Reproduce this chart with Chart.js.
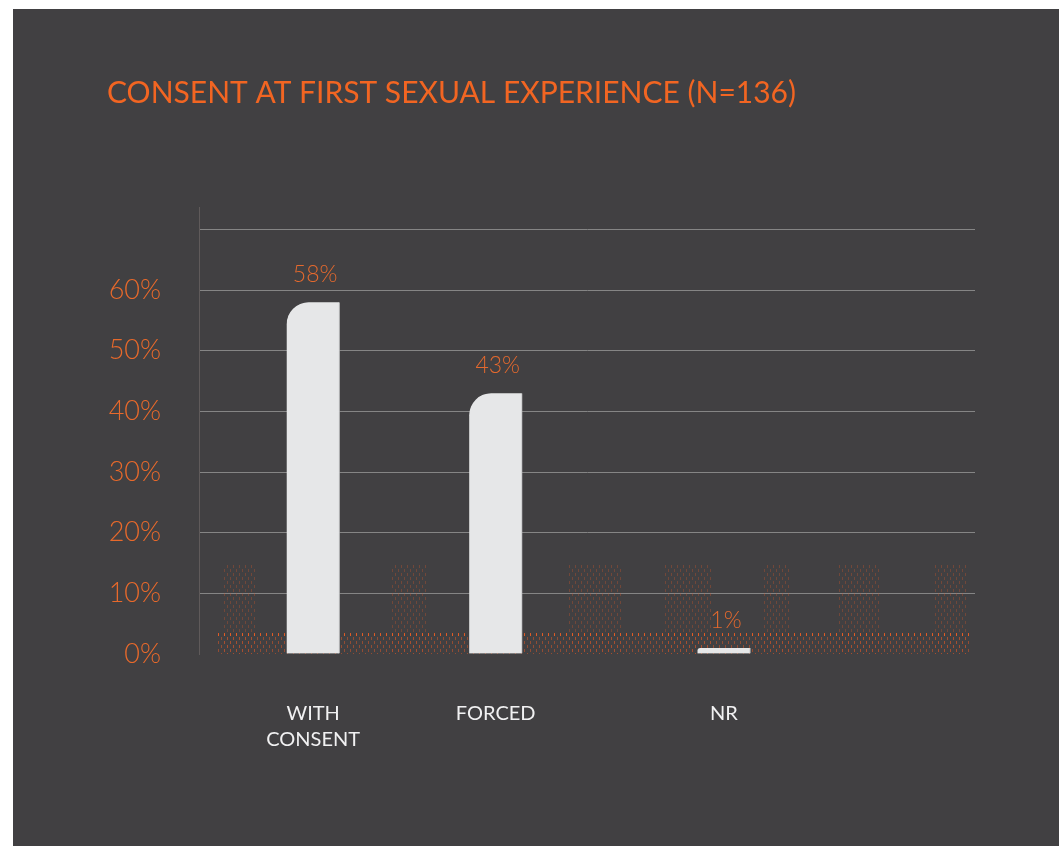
<!DOCTYPE html>
<html>
<head>
<meta charset="utf-8">
<title>Consent at first sexual experience</title>
<script src="https://cdn.jsdelivr.net/npm/chart.js@4/dist/chart.umd.min.js"></script>
<style>
  html, body { margin: 0; padding: 0; background: #ffffff; }
  #panel {
    position: absolute;
    left: 13px;
    top: 9px;
    width: 1046px;
    height: 837px;
    background: #414042;
  }
</style>
</head>
<body>
<div id="panel"><canvas id="grafico"></canvas></div>
<script>
const categorias = [["WITH", "CONSENT"], "FORCED", "NR"];
const porcentagens = [58, 43, 1];
const marcasY = [0, 10, 20, 30, 40, 50, 60, 70];
const titulo = "CONSENT AT FIRST SEXUAL EXPERIENCE (N=136)";

// the x axis is split into 17 slots so the bars sit where the layout wants them
const totalSlots = 17;
const slotDasBarras = [2, 6, 11];

const rotulos = Array(totalSlots).fill("");
const valores = Array(totalSlots).fill(null);
slotDasBarras.forEach((s, i) => {
    rotulos[s] = categorias[i];
    valores[s] = porcentagens[i];
});

const LARANJA = "#f26522";

// dotted orange texture behind the bars
function criarPadrao(ctx) {
    const c = document.createElement("canvas");
    c.width = 6; c.height = 8;
    const g = c.getContext("2d");
    g.fillStyle = "rgba(214, 86, 40, 0.55)";
    g.fillRect(1, 0, 1, 3);
    g.fillRect(4, 4, 1, 3);
    return ctx.createPattern(c, "repeat");
}

const texturaFundo = {
    id: "texturaFundo",
    beforeDatasetsDraw(chart) {
        const { ctx, chartArea } = chart;
        const base = chartArea.bottom;
        const x0 = chartArea.left;
        const padrao = criarPadrao(ctx);
        ctx.save();
        ctx.fillStyle = padrao;
        // low band along the baseline
        ctx.fillRect(x0 + 17, base - 20, 755, 20);
        // taller columns
        const colunas = [[25, 57], [192, 227], [368, 423], [465, 513], [565, 592], [638, 680], [735, 768]];
        ctx.globalAlpha = 0.6;
        colunas.forEach(([a, b]) => ctx.fillRect(x0 + a, base - 90, b - a, 90));
        // brighter dashes on top of the band
        ctx.globalAlpha = 1;
        ctx.fillStyle = "rgba(240, 95, 35, 0.85)";
        for (let x = x0 + 19; x < x0 + 772; x += 6) {
            ctx.fillRect(x, base - 21, 1, 3);
        }
        ctx.restore();
    }
};

const rotulosValor = {
    id: "rotulosValor",
    afterDatasetsDraw(chart) {
        const { ctx } = chart;
        const meta = chart.getDatasetMeta(0);
        ctx.save();
        ctx.fillStyle = "#e4692e";
        ctx.font = "300 23px Lato";
        ctx.textAlign = "center";
        ctx.textBaseline = "bottom";
        meta.data.forEach((bar, i) => {
            const v = valores[i];
            if (v === null) return;
            ctx.fillText(v + "%", bar.x + 2, bar.y - 16);
        });
        ctx.restore();
    }
};

const ctx = document.getElementById("grafico").getContext("2d");
new Chart(ctx, {
    type: "bar",
    data: {
        labels: rotulos,
        datasets: [{
            data: valores,
            backgroundColor: "#e6e7e8",
            borderColor: "#b9babb",
            borderWidth: { right: 1, top: 0, left: 0, bottom: 0 },
            borderRadius: { topLeft: 22, topRight: 0, bottomLeft: 0, bottomRight: 0 },
            borderSkipped: false,
            barThickness: 53
        }]
    },
    options: {
        responsive: true,
        maintainAspectRatio: false,
        animation: false,
        layout: {
            padding: { left: 94, right: 84, top: 0, bottom: 54 }
        },
        plugins: {
            legend: { display: false },
            tooltip: { enabled: false },
            title: {
                display: true,
                text: titulo,
                align: "start",
                color: LARANJA,
                font: { family: "Lato", size: 30, weight: "400" },
                padding: { top: 66, bottom: 96 }
            }
        },
        scales: {
            x: {
                grid: { display: false },
                border: { display: false },
                ticks: {
                    autoSkip: false,
                    maxRotation: 0,
                    color: "#f1f1f2",
                    padding: 39,
                    font: { family: "Lato", size: 20, lineHeight: 1.3 }
                }
            },
            y: {
                min: 0,
                max: 73.7,
                afterFit(scale) { scale.width = 92; },
                border: { display: true, color: "#5f5a5a", width: 1 },
                grid: {
                    drawTicks: false,
                    color: ctx => (ctx.tick.value === 0 ? "rgba(0,0,0,0)" : "#858585")
                },
                afterBuildTicks(scale) {
                    scale.ticks = marcasY.map(v => ({ value: v }));
                },
                ticks: {
                    color: "#e8692b",
                    padding: 38,
                    font: { family: "Lato", size: 27, weight: "300" },
                    callback: v => (v === 70 ? "" : v + "%")
                }
            }
        }
    },
    plugins: [texturaFundo, rotulosValor]
});
</script>
</body>
</html>
